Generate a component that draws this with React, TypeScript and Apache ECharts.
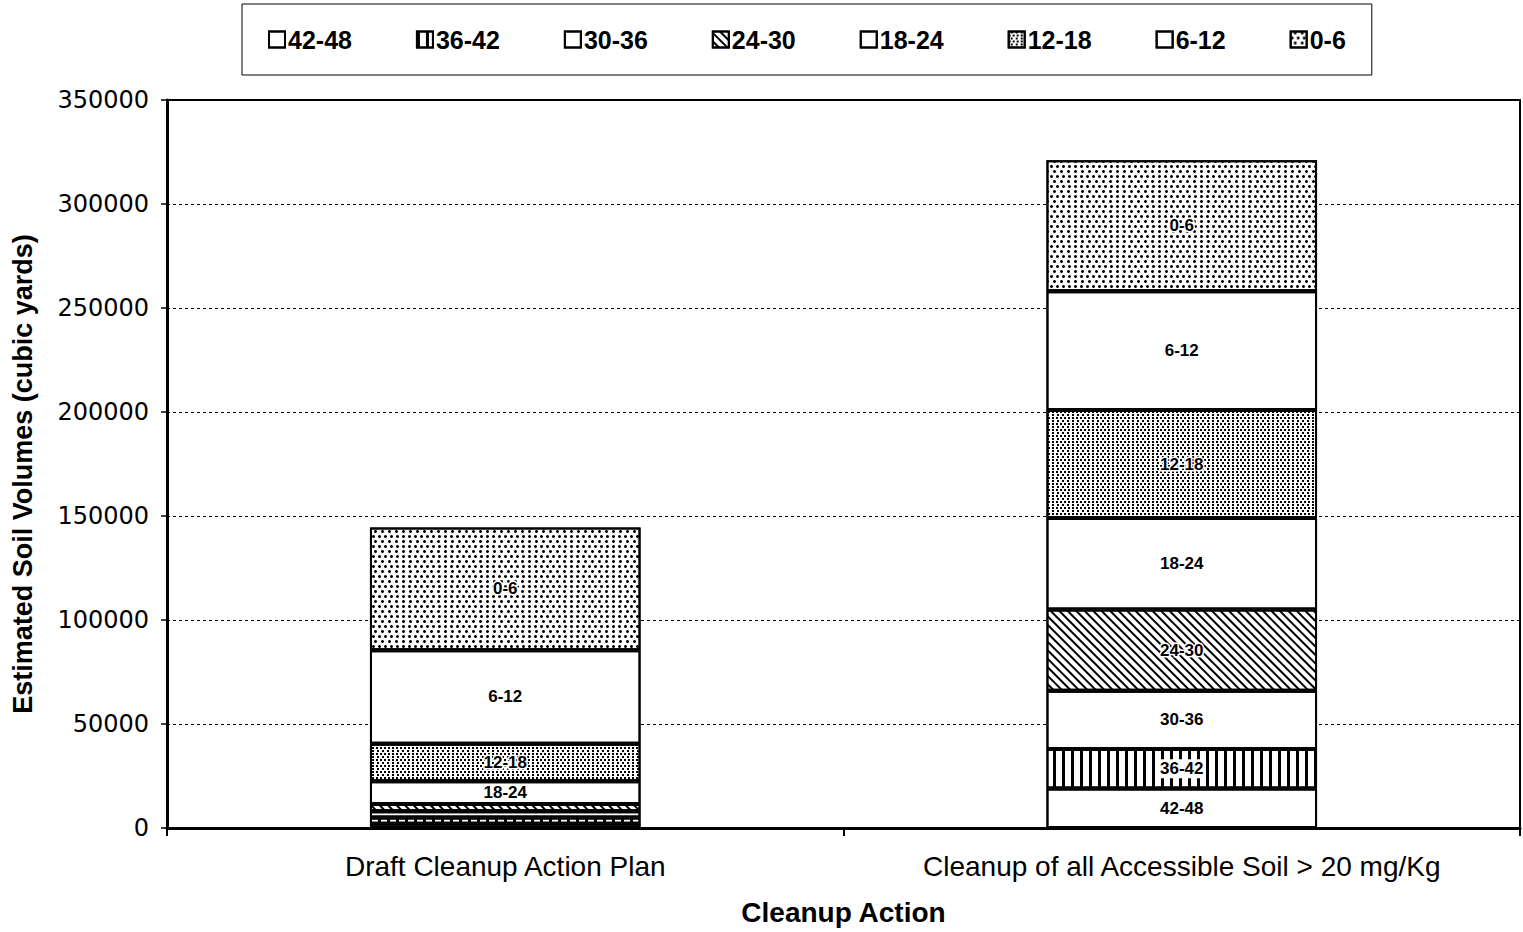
import React, { useEffect, useRef } from "react";
import * as echarts from "echarts";

const categories = ["Draft Cleanup Action Plan", "Cleanup of all Accessible Soil > 20 mg/Kg"];
const depthRanges = ["42-48", "36-42", "30-36", "24-30", "18-24", "12-18", "6-12", "0-6"];

const vol42to48 = [2000, 19000];
const vol36to42 = [3000, 19000];
const vol30to36 = [3000, 28000];
const vol24to30 = [3500, 39000];
const vol18to24 = [11000, 44000];
const vol12to18 = [18000, 52000];
const vol6to12 = [45000, 57000];
const vol0to6 = [59000, 63000];

const yTicks = [0, 50000, 100000, 150000, 200000, 250000, 300000, 350000];

const seriesValues = [vol42to48, vol36to42, vol30to36, vol24to30, vol18to24, vol12to18, vol6to12, vol0to6];

const decals: Record<string, any> = {
  "36-42": { symbol: "rect", color: "#000", backgroundColor: "#fff", dashArrayX: [3, 6], dashArrayY: [1, 0] },
  "24-30": { symbol: "rect", color: "#000", backgroundColor: "#fff", dashArrayX: [1, 0], dashArrayY: [2, 3.5], rotation: Math.PI / 4 },
  "12-18": { symbol: "rect", color: "#000", backgroundColor: "#fff", dashArrayX: [[1.3, 1.5], [0, 1.4, 1.3, 0.1]], dashArrayY: [1.3, 0.3] },
  "0-6": { symbol: "circle", color: "#000", backgroundColor: "#fff", dashArrayX: [[2.4, 2.8], [0, 2.6, 2.4, 0.2]], dashArrayY: [2.4, 1.2] },
};

const FONT = "Liberation Sans, Arial, sans-serif";

export default function App() {
  const ref = useRef<HTMLDivElement>(null);
  useEffect(() => {
    if (!ref.current) return;
    const chart = echarts.init(ref.current, undefined, { renderer: "svg" });
    const series = depthRanges.map((name, i) => ({
      name,
      type: "bar",
      stack: "total",
      barWidth: "40%",
      itemStyle: {
        color: "#fff",
        borderColor: "#000",
        borderWidth: 2,
        decal: decals[name] || { symbol: "none" },
      },
      label: {
        show: true,
        position: "inside",
        formatter: () => name,
        fontFamily: FONT,
        fontWeight: "bold",
        fontSize: 17,
        color: "#000",
        textBorderColor: "#fff",
        textBorderWidth: 3,
        backgroundColor: name === "36-42" ? "#fff" : "transparent",
        padding: name === "36-42" ? [1, 1] : 0,
      },
      data: seriesValues[i].map((v) => ({ value: v, label: { show: v >= 8000 } })),
    }));

    chart.setOption({
      animation: false,
      backgroundColor: "#fff",
      legend: {
        left: 242,
        top: 4,
        padding: [23, 26],
        itemGap: 64,
        itemWidth: 16,
        itemHeight: 16,
        itemStyle: { borderColor: "#000", borderWidth: 2 },
        icon: "rect",
        borderColor: "#000",
        borderWidth: 1,
        textStyle: { fontFamily: FONT, fontWeight: "bold", fontSize: 25, color: "#000", padding: [0, 0, 0, -2] },
        data: depthRanges,
      },
      grid: {
        left: 167,
        right: 3,
        top: 100,
        bottom: 104,
        show: true,
        borderColor: "#000",
        borderWidth: 2,
        containLabel: false,
      },
      xAxis: {
        type: "category",
        data: categories,
        name: "Cleanup Action",
        nameLocation: "middle",
        nameGap: 70,
        nameTextStyle: { fontFamily: FONT, fontWeight: "bold", fontSize: 28, color: "#000" },
        axisLine: { lineStyle: { color: "#000", width: 3 } },
        axisTick: { show: true, alignWithLabel: false, length: 8, lineStyle: { color: "#000", width: 2 } },
        axisLabel: { margin: 24, fontFamily: FONT, fontSize: 28, color: "#000" },
        splitLine: { show: false },
      },
      yAxis: {
        type: "value",
        min: 0,
        max: yTicks[yTicks.length - 1],
        interval: yTicks[1] - yTicks[0],
        name: "Estimated Soil Volumes (cubic yards)",
        nameLocation: "middle",
        nameGap: 131,
        nameTextStyle: { fontFamily: FONT, fontWeight: "bold", fontSize: 27, color: "#000", padding: [0, 20, 0, 0] },
        axisLine: { show: true, lineStyle: { color: "#000", width: 3 } },
        axisTick: { show: true, length: 6, lineStyle: { color: "#000", width: 1.5 } },
        axisLabel: { margin: 18, fontFamily: "DejaVu Sans, sans-serif", fontSize: 24, color: "#000", formatter: (v: number) => String(v) },
        splitLine: { show: true, lineStyle: { color: "#000", width: 1, type: [3, 3] } },
      },
      series,
    });
    return () => chart.dispose();
  }, []);
  return <div ref={ref} style={{ position: "absolute", left: 0, top: 0, width: 1523, height: 932 }} />;
}
